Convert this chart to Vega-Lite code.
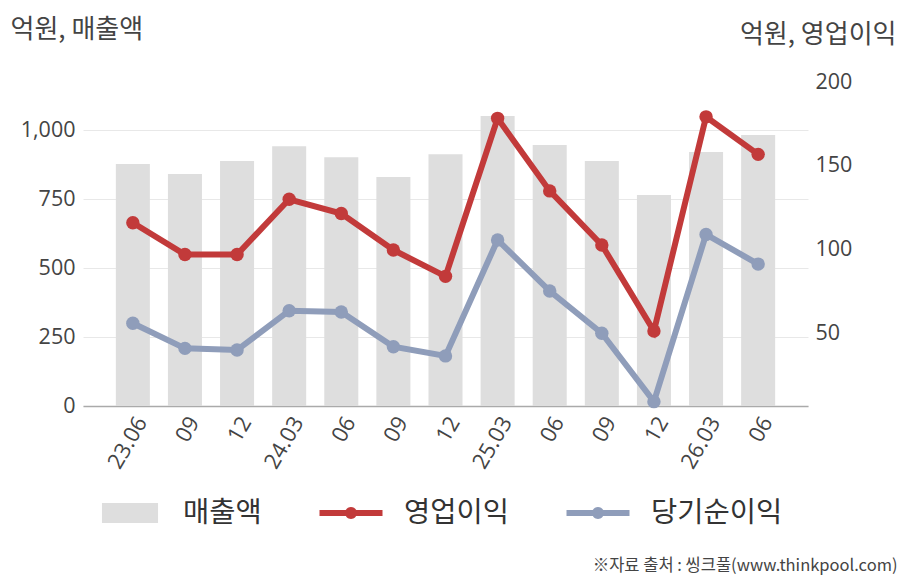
{
  "$schema": "https://vega.github.io/schema/vega-lite/v6.json",
  "width": 725,
  "height": 324,
  "autosize": "none",
  "padding": {"left": 83, "top": 82, "right": 100, "bottom": 174},
  "background": "white",
  "data": {
    "values": [
      {"q": "23.06", "sales": 878, "op": 116, "net": 56},
      {"q": "23.09", "sales": 842, "op": 97, "net": 41},
      {"q": "23.12", "sales": 889, "op": 97, "net": 40},
      {"q": "24.03", "sales": 943, "op": 130, "net": 63.5},
      {"q": "24.06", "sales": 903, "op": 121.5, "net": 62.7},
      {"q": "24.09", "sales": 831, "op": 99.7, "net": 42},
      {"q": "24.12", "sales": 914, "op": 84, "net": 36.5},
      {"q": "25.03", "sales": 1053, "op": 178.3, "net": 105.7},
      {"q": "25.06", "sales": 947, "op": 135, "net": 75.2},
      {"q": "25.09", "sales": 889, "op": 102.7, "net": 50},
      {"q": "25.12", "sales": 766, "op": 51.4, "net": 9.2},
      {"q": "26.03", "sales": 922, "op": 179.2, "net": 109},
      {"q": "26.06", "sales": 984, "op": 156.8, "net": 91.3}
    ]
  },
  "encoding": {
    "x": {
      "field": "q",
      "type": "nominal",
      "sort": null,
      "scale": {"paddingInner": 0.347, "paddingOuter": 0.63},
      "axis": {
        "labelAngle": -60,
        "labelExpr": "slice(datum.label, 3) == '03' || datum.label == '23.06' ? datum.label : slice(datum.label, 3)",
        "labelFontSize": 22,
        "labelPadding": 12,
        "labelOffset": 9,
        "ticks": false,
        "domainColor": "#aaaaaa",
        "domainWidth": 1.5,
        "title": "※자료 출처 : 씽크풀(www.thinkpool.com)",
        "titleFont": "Noto Sans CJK KR",
        "titleFontSize": 16.5,
        "titleFontWeight": "normal",
        "titleColor": "#444444",
        "titleAlign": "right",
        "titleBaseline": "middle",
        "titleX": 814,
        "titleY": 159
      }
    }
  },
  "layer": [
    {
      "mark": {"type": "bar", "color": "#dedede"},
      "encoding": {
        "y": {
          "field": "sales",
          "type": "quantitative",
          "scale": {"domain": [0, 1176], "nice": false},
          "axis": {
            "values": [0, 250, 500, 750, 1000],
            "format": ",d",
            "orient": "left",
            "grid": true,
            "gridColor": "#e8e8e8",
            "ticks": false,
            "domain": false,
            "labelFontSize": 21.5,
            "labelPadding": 8,
            "title": "억원, 매출액",
            "titleAngle": 0,
            "titleAlign": "left",
            "titleBaseline": "middle",
            "titleX": -73,
            "titleY": -53
          }
        },
        "color": {"datum": "매출액", "type": "nominal"}
      }
    },
    {
      "transform": [{"fold": ["op", "net"], "as": ["k", "v"]},
        {"calculate": "datum.k == 'op' ? '영업이익' : '당기순이익'", "as": "series"}],
      "mark": {"type": "line", "strokeWidth": 6, "point": {"filled": true, "size": 180, "opacity": 1}},
      "encoding": {
        "y": {
          "field": "v",
          "type": "quantitative",
          "scale": {"domain": [6.6, 200], "nice": false, "zero": false},
          "axis": {
            "values": [50, 100, 150, 200],
            "orient": "right",
            "grid": false,
            "ticks": false,
            "domain": false,
            "labelFontSize": 21.5,
            "labelPadding": 7,
            "title": "억원, 영업이익",
            "titleAngle": 0,
            "titleAlign": "right",
            "titleBaseline": "middle",
            "titleX": 88,
            "titleY": -48
          }
        },
        "color": {
          "field": "series",
          "type": "nominal",
          "scale": {
            "domain": ["매출액", "영업이익", "당기순이익"],
            "range": ["#dedede", "#c23a3a", "#8f9dba"]
          },
          "legend": {
            "orient": "none",
            "legendX": 15.5,
            "legendY": 399.5,
            "direction": "horizontal",
            "title": null,
            "padding": 0,
            "symbolSize": 3969,
            "labelOffset": 21.5,
            "columnPadding": 57,
            "labelFont": "Noto Sans CJK KR",
            "labelFontSize": 28.5,
            "labelColor": "#333333",
            "encode": {
              "symbols": {
                "update": {
                  "shape": {"signal": "datum.value == '매출액' ? 'M-0.89,-0.32L0.89,-0.32L0.89,0.32L-0.89,0.32Z' : 'M-1,-0.095L1,-0.095L1,0.095L-1,0.095Z M0.19,0 A0.19,0.19 0 1,1 -0.19,0 A0.19,0.19 0 1,1 0.19,0 Z'"},
                  "fill": {"scale": "color", "field": "value"},
                  "strokeWidth": {"value": 0},
                  "opacity": {"value": 1}
                }
              }
            }
          }
        }
      }
    }
  ],
  "resolve": {"scale": {"y": "independent"}},
  "config": {
    "view": {"stroke": null},
    "font": "Noto Sans CJK KR",
    "axis": {
      "labelFont": "Open Sans",
      "labelColor": "#444444",
      "titleFont": "Noto Sans CJK KR",
      "titleFontSize": 26,
      "titleFontWeight": "normal",
      "titleColor": "#444444"
    }
  }
}
